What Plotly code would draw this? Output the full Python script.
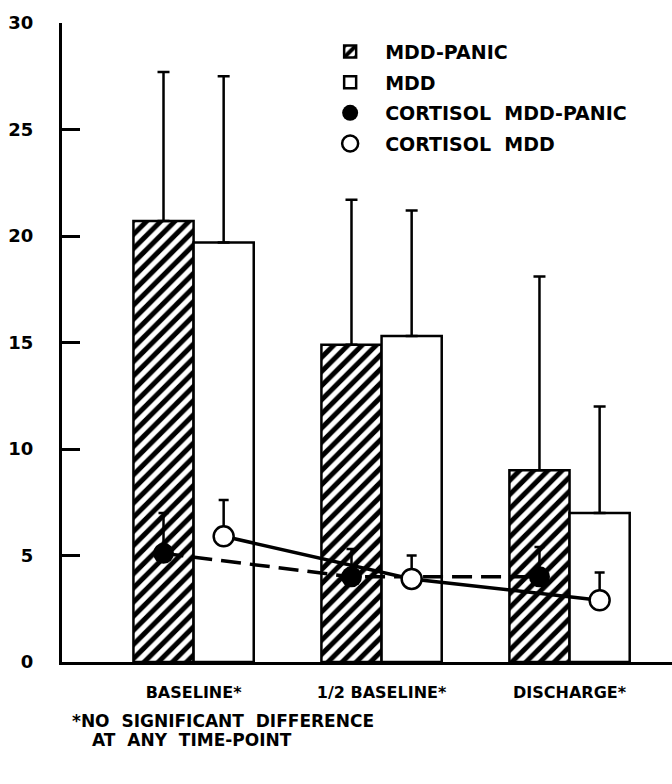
import plotly.graph_objects as go

# ---- data ----
categories = ["BASELINE*", "1/2 BASELINE*", "DISCHARGE*"]
panic_mean = [20.7, 14.9, 9.0]
panic_sd = [7.0, 6.8, 9.1]
mdd_mean = [19.7, 15.3, 7.0]
mdd_sd = [7.8, 5.9, 5.0]
cort_panic = [5.1, 4.0, 4.0]
cort_panic_sd = [1.9, 1.3, 1.4]
cort_mdd = [5.9, 3.9, 2.9]
cort_mdd_sd = [1.7, 1.1, 1.3]
y_ticks = [0, 5, 10, 15, 20, 25, 30]
footnote = ["*NO&nbsp;&nbsp;SIGNIFICANT&nbsp;&nbsp;DIFFERENCE", "AT&nbsp;&nbsp;ANY&nbsp;&nbsp;TIME-POINT"]

# ---- styling ----
FONT = "DejaVu Sans"
BAR_W = 0.32
idx = list(range(len(categories)))
x_left = [i - BAR_W / 2 for i in idx]
x_right = [i + BAR_W / 2 for i in idx]
zeros = [0] * len(idx)

fig = go.Figure()

fig.add_trace(go.Bar(
    x=idx, y=panic_mean, width=BAR_W, offset=-BAR_W, name="MDD-PANIC",
    legendgroup="a",
    marker=dict(color="white", line=dict(color="black", width=2.5),
                pattern=dict(shape="/", fgcolor="black", bgcolor="white",
                             size=10, solidity=0.5, fillmode="replace")),
    error_y=dict(type="data", symmetric=False, array=panic_sd, arrayminus=zeros,
                 color="black", thickness=2.5, width=6),
))
fig.add_trace(go.Bar(
    x=idx, y=mdd_mean, width=BAR_W, offset=0, name="MDD",
    legendgroup="b",
    marker=dict(color="white", line=dict(color="black", width=2.5)),
    error_y=dict(type="data", symmetric=False, array=mdd_sd, arrayminus=zeros,
                 color="black", thickness=2.5, width=6),
))
fig.add_trace(go.Scatter(
    x=x_left, y=cort_panic, mode="lines+markers", showlegend=False,
    line=dict(color="black", width=3.5, dash="20px,9px"),
    marker=dict(symbol="circle", size=21, color="black"),
    error_y=dict(type="data", symmetric=False, array=cort_panic_sd, arrayminus=zeros,
                 color="black", thickness=2.5, width=5),
))
fig.add_trace(go.Scatter(
    x=x_right, y=cort_mdd, mode="lines+markers", showlegend=False,
    line=dict(color="black", width=3.5),
    marker=dict(symbol="circle", size=20, color="white", line=dict(color="black", width=2.5)),
    error_y=dict(type="data", symmetric=False, array=cort_mdd_sd, arrayminus=zeros,
                 color="black", thickness=2.5, width=5),
))
# legend-only entries for the cortisol series (markers only, as in the reference)
fig.add_trace(go.Scatter(
    x=[None], y=[None], mode="markers", name="CORTISOL&nbsp;&nbsp;MDD-PANIC",
    legendgroup="c", marker=dict(symbol="circle", size=21, color="black"),
))
fig.add_trace(go.Scatter(
    x=[None], y=[None], mode="markers", name="CORTISOL&nbsp;&nbsp;MDD",
    legendgroup="d",
    marker=dict(symbol="circle", size=18, color="white", line=dict(color="black", width=2.5)),
))

for txt, xp, yp in zip(footnote, [70, 90], [721, 740]):
    fig.add_annotation(
        text=txt, xref="paper", yref="paper",
        x=(xp - 62) / 610, y=1 - (yp - 23) / 639,
        xanchor="left", yanchor="middle", showarrow=False,
        font=dict(family=FONT, size=17, color="black", weight="bold"),
    )

fig.update_layout(
    width=672, height=784,
    margin=dict(l=62, r=0, t=23, b=122),
    paper_bgcolor="white", plot_bgcolor="white",
    barmode="overlay",
    font=dict(family=FONT, color="black"),
    showlegend=True,
    legend=dict(
        x=0.415, y=0.985, xanchor="left", yanchor="top",
        bgcolor="rgba(0,0,0,0)", itemwidth=60, tracegroupgap=3,
        font=dict(family=FONT, size=19, color="black", weight="bold"),
        traceorder="grouped",
    ),
    xaxis=dict(
        range=[-0.70, 2.545], tickmode="array", tickvals=idx, ticktext=categories,
        showline=True, linecolor="black", linewidth=3, ticks="",
        showgrid=False, zeroline=False, ticklabelstandoff=14,
        tickfont=dict(family=FONT, size=16, color="black", weight="bold"),
    ),
    yaxis=dict(
        range=[0, 30], tickmode="array", tickvals=y_ticks,
        showline=True, linecolor="black", linewidth=3,
        ticks="inside", ticklen=18, tickwidth=3, tickcolor="black",
        showgrid=False, zeroline=False, ticklabelstandoff=22,
        tickfont=dict(family=FONT, size=18, color="black", weight="bold"),
    ),
)

fig.write_html("out.html", config={"displayModeBar": False},
               post_script="document.body.style.margin='0';")
